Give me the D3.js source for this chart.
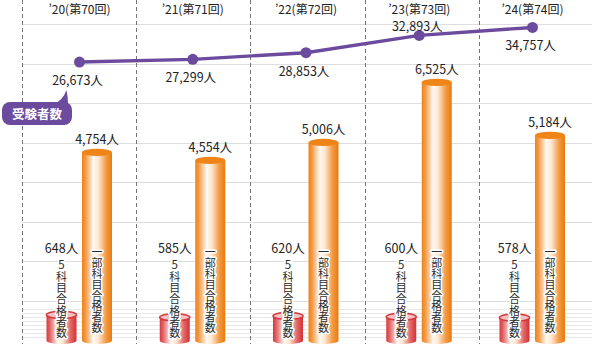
<!DOCTYPE html>
<html lang="ja">
<head>
<meta charset="utf-8">
<script src="https://cdn.jsdelivr.net/npm/d3@7"></script>
<style>
  html, body { margin: 0; padding: 0; background: #fff; }
  svg { display: block; font-family: "Noto Sans CJK JP", "Noto Sans", sans-serif; }
  .vert { writing-mode: vertical-rl; }
</style>
</head>
<body>
<svg id="chart" width="592" height="344"></svg>
<script>
// Exam rounds and results
const years = ["’20(第70回)", "’21(第71回)", "’22(第72回)", "’23(第73回)", "’24(第74回)"];
const applicants = [26673, 27299, 28853, 32893, 34757];   // 受験者数
const partialPass = [4754, 4554, 5006, 6525, 5184];        // 一部科目合格者数
const fullPass = [648, 585, 620, 600, 578];                // 5科目合格者数
const gridMajor = d3.range(1000, 8001, 1000);
const gridMinor = d3.range(100, 900, 100);

const W = 592, H = 344;
const svg = d3.select("#chart");
const defs = svg.append("defs");

// Columns separated by dashed lines
const band = d3.scaleBand().domain(years).range([22, 593]);
// Centre of each year's marks
const xc = d3.scalePoint().domain(years).range([79.5, 532.5]);
// Bar heights (people)
const yBar = d3.scaleLinear().domain([0, 8000]).range([340.5, 24]);
// Applicant line
const yLine = d3.scaleLinear().domain([20000, 40000]).range([90.6, 5.0]);

// Horizontal gridlines
svg.append("g").selectAll("line").data(gridMinor).join("line")
  .attr("x1", 22).attr("x2", W)
  .attr("y1", d => Math.round(yBar(d)) + 0.5).attr("y2", d => Math.round(yBar(d)) + 0.5)
  .attr("stroke", "#e8e8e8").attr("stroke-width", 1);
svg.append("g").selectAll("line").data(gridMajor).join("line")
  .attr("x1", 22).attr("x2", W)
  .attr("y1", d => Math.round(yBar(d)) + 0.5).attr("y2", d => Math.round(yBar(d)) + 0.5)
  .attr("stroke", "#dedede").attr("stroke-width", 1.2);

// Dashed column separators
const seps = years.map(y => band(y)).concat([band(years[years.length - 1]) + band.bandwidth() - 1.5]);
svg.append("g").selectAll("line").data(seps).join("line")
  .attr("x1", d => Math.round(d) + 0.5).attr("x2", d => Math.round(d) + 0.5)
  .attr("y1", 0).attr("y2", H)
  .attr("stroke", "#777").attr("stroke-width", 1).attr("stroke-dasharray", "4,3");

// Cylinder gradients
function bodyGradient(id, edge, mid, dark) {
  const g = defs.append("linearGradient").attr("id", id).attr("x1", "0").attr("x2", "1").attr("y1", "0").attr("y2", "0");
  [[0, edge], [0.12, mid], [0.38, "#fffaf4"], [0.55, "#fde6cf"], [0.8, mid], [1, dark]]
    .forEach(([o, c]) => g.append("stop").attr("offset", o).attr("stop-color", c));
}
bodyGradient("orangeBody", "#ef8216", "#f39a45", "#e97a0c");
bodyGradient("redBody", "#d8393c", "#e2686a", "#d32f33");

const barW = 30, ry = 3.6;
const orangeX = d => xc(d) + 17.5;
const redX = d => xc(d) - 18;

function cylinder(g, cx, v, bodyId, topFill, topStroke) {
  const top = yBar(v), base = yBar(0);
  g.append("path")
    .attr("d", `M${cx - barW / 2},${top} L${cx - barW / 2},${base} A${barW / 2},${ry} 0 0 0 ${cx + barW / 2},${base} L${cx + barW / 2},${top} Z`)
    .attr("fill", `url(#${bodyId})`);
  g.append("ellipse").attr("cx", cx).attr("cy", top).attr("rx", barW / 2).attr("ry", ry)
    .attr("fill", topFill).attr("stroke", topStroke).attr("stroke-width", topStroke === "none" ? 0 : 1.6);
}

const bars = svg.append("g");
years.forEach((yr, i) => {
  cylinder(bars, orangeX(yr), partialPass[i], "orangeBody", "#ef8518", "none");
  cylinder(bars, redX(yr), fullPass[i], "redBody", "#f3c2c2", "#d7383b");
});

// Captions inside the cylinders, white halo for legibility
function halo(sel) {
  return sel.attr("fill", "#2b2b2b").attr("stroke", "#fff").attr("stroke-width", 3.2)
    .attr("stroke-linejoin", "round").attr("paint-order", "stroke");
}
function verticalText(str, cx, yTop, size, spacing) {
  halo(svg.append("text").attr("class", "vert")
    .attr("x", cx).attr("y", yTop)
    .attr("font-size", size).attr("letter-spacing", spacing))
    .text(str);
}
years.forEach(yr => {
  verticalText("一部科目合格者数", orangeX(yr), 246.3, 11, -0.1);
  halo(svg.append("text").attr("x", redX(yr)).attr("y", 268.5)
    .attr("text-anchor", "middle").attr("font-size", 11.5))
    .text("5");
  verticalText("科目合格者数", redX(yr), 271.4, 11, 0.2);
});

// Bar value labels
svg.append("g").selectAll("text").data(partialPass).join("text")
  .attr("x", (d, i) => orangeX(years[i]))
  .attr("y", d => yBar(d) - 8)
  .attr("text-anchor", "middle").attr("font-size", 12.5).attr("fill", "#222")
  .text(d => d3.format(",")(d) + "人");
svg.append("g").selectAll("text").data(fullPass).join("text")
  .attr("x", (d, i) => redX(years[i]))
  .attr("y", 252.5)
  .attr("text-anchor", "middle").attr("font-size", 12.5).attr("fill", "#222")
  .text(d => d3.format(",")(d) + "人");

// Year headings
svg.append("g").selectAll("text").data(years).join("text")
  .attr("x", d => xc(d)).attr("y", 14)
  .attr("text-anchor", "middle").attr("font-size", 12).attr("fill", "#222")
  .text(d => d);

// Applicant line
const purple = "#6c4b9e";
const line = d3.line().x((d, i) => xc(years[i])).y(d => yLine(d));
svg.append("path").datum(applicants).attr("d", line)
  .attr("fill", "none").attr("stroke", purple).attr("stroke-width", 3.4);
svg.append("g").selectAll("circle").data(applicants).join("circle")
  .attr("cx", (d, i) => xc(years[i])).attr("cy", d => yLine(d)).attr("r", 5.5)
  .attr("fill", purple);
const labelAbove = new Set([3]);
svg.append("g").selectAll("text").data(applicants).join("text")
  .attr("x", (d, i) => xc(years[i]) - 2)
  .attr("y", (d, i) => labelAbove.has(i) ? yLine(d) - 4.5 : yLine(d) + 23)
  .attr("text-anchor", "middle").attr("font-size", 12.5).attr("fill", "#222")
  .text(d => d3.format(",")(d) + "人");

// Series callout
const tag = svg.append("g");
tag.append("path").attr("d", "M54,104 Q63,100 66.5,90 Q68,97 68,104 Z").attr("fill", purple);
tag.append("rect").attr("x", 2).attr("y", 102).attr("width", 70).attr("height", 23).attr("rx", 8)
  .attr("fill", purple);
tag.append("text").attr("x", 37).attr("y", 113.5)
  .attr("text-anchor", "middle").attr("dominant-baseline", "central")
  .attr("font-size", 12.5).attr("font-weight", 700).attr("fill", "#fff")
  .text("受験者数");
</script>
</body>
</html>
